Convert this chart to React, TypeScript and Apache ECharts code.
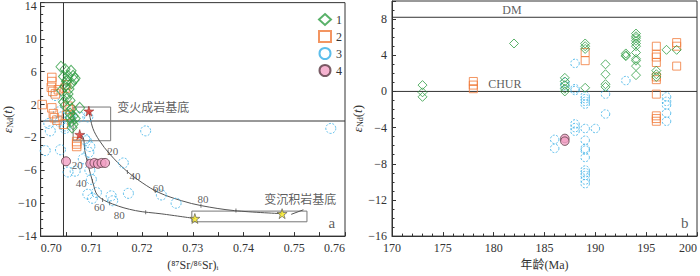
import React, { useEffect, useRef } from 'react';
import * as echarts from 'echarts';

const FONT = '"Liberation Serif", "Times New Roman", "Noto Sans CJK SC", serif';
const TXT = '#333';

// ---------- left panel (a) data: [(87Sr/86Sr)i, εNd(t)] ----------
const leftGroup1: number[][] = [
  [0.7040, 6.6], [0.7048, 6.3], [0.7060, 6.1], [0.7064, 5.5], [0.7068, 5.2], [0.7054, 5.5],
  [0.7045, 5.4], [0.7051, 4.8], [0.7061, 4.6], [0.7048, 4.2], [0.7041, 3.7], [0.7054, 3.3],
  [0.7051, 2.7], [0.7045, 2.3], [0.7058, 2.5], [0.7048, 1.9], [0.7061, 1.5], [0.7077, 1.6],
  [0.7058, 0.9], [0.7064, 0.6], [0.7068, 0.3], [0.7061, 0.0], [0.7064, -0.4], [0.7062, -0.8],
  [0.7052, 5.0], [0.7066, 5.0], [0.7056, 3.9], [0.7058, 0.4],
];
const leftGroup2: number[][] = [
  [0.7022, 5.3], [0.7022, 4.8], [0.7021, 4.1], [0.7024, 3.6], [0.7029, 3.3], [0.7035, 3.8],
  [0.7048, 4.0], [0.7051, 4.4], [0.7003, 2.0], [0.7022, 1.6], [0.7025, 0.9], [0.7027, 0.4],
  [0.7054, 1.8], [0.7058, 1.4], [0.7051, 0.7], [0.7071, -2.5], [0.7071, -2.8], [0.7071, -3.1],
  [0.7032, 0.1], [0.7045, -0.4],
];
const leftGroup3: number[][] = [
  [0.7019, -1.2], [0.7048, -0.9], [0.7207, -1.2], [0.7572, -0.9], [0.7029, 3.1], [0.7035, 1.1],
  [0.7041, 0.5], [0.7038, -0.1], [0.7058, 0.5], [0.7077, 0.5], [0.7093, 0.5], [0.7009, -3.6],
  [0.7039, -3.5], [0.7087, -2.2], [0.7097, -3.1], [0.7095, -3.8], [0.7084, -4.6], [0.7054, -6.2],
  [0.7068, -6.1], [0.7097, -6.0], [0.7100, -7.1], [0.7093, -8.9], [0.7102, -9.4], [0.7110, -8.7],
  [0.7139, -9.1], [0.7142, -9.7], [0.7173, -8.8], [0.7238, -9.0], [0.7267, -10.0], [0.7163, -5.1],
  [0.7016, -0.3], [0.7048, -0.6], [0.7090, -2.4],
];
const leftGroup4: number[][] = [
  [0.7050, -4.9], [0.7098, -5.2], [0.7106, -5.1], [0.7113, -5.2], [0.7120, -5.1], [0.7127, -5.1],
];
const basementStars: number[][] = [[0.7095, 1.2], [0.7077, -1.65]];
const sedimentStars: number[][] = [[0.7304, -11.86], [0.7476, -11.27]];

const mixUpper: number[][] = [
  [0.7095, 1.2], [0.7103, -0.9], [0.7116, -2.4], [0.7136, -4.0], [0.7168, -6.0], [0.7200, -7.5],
  [0.7233, -8.7], [0.7278, -9.7], [0.7317, -10.3], [0.7382, -10.9], [0.7476, -11.27],
];
const mixLower: number[][] = [
  [0.7077, -1.65], [0.7084, -2.0], [0.7087, -3.6], [0.7093, -5.2], [0.7103, -7.5], [0.7113, -9.1],
  [0.7142, -10.1], [0.7187, -10.9], [0.7239, -11.3], [0.7304, -11.86],
];
const upperTicks: number[][] = [[0.7133, -3.7], [0.7171, -6.2], [0.7226, -8.5], [0.7316, -10.3], [0.7385, -10.9]];
const lowerTicks: number[][] = [[0.7092, -4.8], [0.7102, -7.3], [0.7122, -9.6], [0.7136, -10.0], [0.7207, -11.1]];
const tickNames = ['20', '40', '60', '80'];
const upperTickLabelPos: number[][] = [[0.7142, -3.7], [0.7186, -6.7], [0.7232, -8.1], [0.7320, -9.5]];
const lowerTickLabelPos: number[][] = [[0.7072, -5.3], [0.7080, -7.5], [0.7116, -10.4], [0.7155, -11.4]];

const igneousBox: number[][] = [[0.7064, 1.7], [0.7138, 1.7], [0.7138, -2.4], [0.7064, -2.4], [0.7064, 1.7]];
const sedimentBox: number[][] = [[0.7298, -10.96], [0.7525, -10.96], [0.7525, -12.26], [0.7298, -12.26], [0.7298, -10.96]];
const sedimentLeader: number[][] = [[0.7494, -11.35], [0.7518, -10.8]];
const srRefX = 0.7045;
const leftNdRef = 0;

// ---------- right panel (b) data: [age Ma, εNd(t)] ----------
const rightGroup1: number[][] = [
  [173, 0.7], [173, -0.1], [173, -0.6], [182, 5.3],
  [187, 1.5], [187, 1.1], [187, 0.7], [187, 0.3], [187, 0.0],
  [189, 5.3], [189, 5.0], [189, 4.7], [189, 0.4],
  [191, 3.0], [191, 1.9], [191, 0.8], [191, 0.5],
  [193, 4.2], [193, 4.0], [193, 3.9],
  [194, 6.4], [194, 6.1], [194, 5.9], [194, 5.6], [194, 5.3], [194, 5.0], [194, 4.3], [194, 3.6], [194, 3.4], [194, 2.8], [194, 1.8],
  [196, 2.3], [196, 1.9], [196, 1.6], [197, 4.6], [198, 4.6],
];
const rightGroup2: number[][] = [
  [178, 1.1], [178, 0.7], [178, 0.3], [189, 4.3], [189, 3.4],
  [196, 5.0], [196, 4.1], [196, 3.8], [196, 3.2], [196, 1.6], [196, 1.3], [196, -0.3], [196, -2.7], [196, -3.0], [196, -3.3],
  [198, 5.4], [198, 5.0], [198, 2.8],
];
const rightGroup3: number[][] = [
  [186, -5.3], [186, -6.3], [187, 1.0], [187, 0.6],
  [188, 3.1], [188, 0.3], [188, 0.1], [188, -3.6], [188, -4.0], [188, -4.4],
  [189, -0.5], [189, -0.8], [189, -1.1], [189, -1.4], [189, -4.1], [189, -5.4], [189, -6.3], [189, -6.5], [189, -7.3],
  [189, -8.7], [189, -9.0], [189, -9.3], [189, -9.8], [189, -10.2],
  [190, -4.1], [191, -0.3], [191, -2.5], [193, 1.2],
  [197, -0.6], [197, -1.1], [197, -1.5], [197, -2.4], [197, -3.3],
];
const rightGroup4: number[][] = [[187, -5.2], [187, -5.5]];
const dmValue = 8.2;
const churValue = 0;

const groupNames = ['1', '2', '3', '4'];

const minus = (v: number) => String(v).replace('-', '−');

const STAR = 'path://M50,0 L61,35 L98,35 L68,57 L79,91 L50,70 L21,91 L32,57 L2,35 L39,35 Z';

const g1Style = { color: 'rgba(0,0,0,0)', borderColor: '#2f9e44', borderWidth: 1 };
const g2Style = { color: 'rgba(0,0,0,0)', borderColor: '#f07b3a', borderWidth: 1 };
const g3Style = { color: 'rgba(0,0,0,0)', borderColor: '#34aee6', borderWidth: 1, borderType: [2, 1.5] };
const g4Style = { color: '#f2a0c4', borderColor: '#5a3a44', borderWidth: 1 };

const grayLine = { color: '#555', width: 1 };

function lineSeries(data: number[][], ax: number, style = grayLine, smooth: boolean | number = false) {
  return {
    type: 'line', data, xAxisIndex: ax, yAxisIndex: ax, symbol: 'none', silent: true,
    lineStyle: style, smooth, z: 1,
  };
}

function textSeries(items: { value: number[]; name: string }[], ax: number, fontSize = 12, extra: any = {}) {
  return {
    type: 'scatter', data: items, xAxisIndex: ax, yAxisIndex: ax, symbolSize: 0, silent: true,
    label: { show: true, position: 'inside', formatter: '{b}', fontFamily: FONT, fontSize, color: TXT, ...extra },
    z: 5,
  };
}

const axisCommon = {
  axisLine: { show: true, onZero: false, lineStyle: { color: '#333', width: 1 } },
  axisTick: { show: true, inside: true, length: 4, lineStyle: { color: '#333' } },
  splitLine: { show: false },
};

const ndName = '{e|ε}{s|Nd}{p|(}{t|t}{p|)}';
const ndRich = {
  e: { fontFamily: FONT, fontSize: 13, fontStyle: 'italic', color: TXT },
  s: { fontFamily: FONT, fontSize: 8, color: TXT, verticalAlign: 'bottom', padding: [0, 0, 0, 0] },
  p: { fontFamily: FONT, fontSize: 13, color: TXT },
  t: { fontFamily: FONT, fontSize: 13, fontStyle: 'italic', color: TXT },
};

export default function App() {
  const ref = useRef<HTMLDivElement>(null);
  useEffect(() => {
    if (!ref.current) return;
    const chart = echarts.init(ref.current, undefined, { renderer: 'svg' });
    const option: any = {
      animation: false,
      backgroundColor: '#fff',
      grid: [
        { left: 37, top: 1, width: 308, height: 241, show: true, borderColor: '#333', borderWidth: 1 },
        { left: 392, top: 1, width: 306, height: 241, show: true, borderColor: '#333', borderWidth: 1 },
      ],
      legend: {
        data: groupNames, orient: 'vertical', left: 313, top: 8, itemWidth: 12, itemHeight: 11, itemGap: 4,
        textStyle: { fontFamily: FONT, fontSize: 12, color: TXT }, selectedMode: false,
      },
      xAxis: [
        {
          type: 'value', gridIndex: 0, min: 0.70, max: 0.76, interval: 0.01, ...axisCommon,
          minorTick: { show: true, splitNumber: 2, length: 4, lineStyle: { color: '#333' } },
          axisLabel: {
            fontFamily: FONT, fontSize: 12, color: TXT, margin: 6, formatter: (v: number) => v.toFixed(2),
            alignMinLabel: 'left', alignMaxLabel: 'right',
          },
          name: '(⁸⁷Sr/⁸⁶Sr)ᵢ', nameLocation: 'middle', nameGap: 20,
          nameTextStyle: { fontFamily: FONT, fontSize: 12, color: TXT },
        },
        {
          type: 'value', gridIndex: 1, min: 170, max: 200, interval: 5, ...axisCommon,
          minorTick: { show: true, splitNumber: 5, length: 2.5, lineStyle: { color: '#333' } },
          axisLabel: { fontFamily: FONT, fontSize: 12, color: TXT, margin: 6, alignMaxLabel: 'right' },
          name: '年龄(Ma)', nameLocation: 'middle', nameGap: 20,
          nameTextStyle: { fontFamily: FONT, fontSize: 12, color: TXT },
        },
      ],
      yAxis: [
        {
          type: 'value', gridIndex: 0, min: -14, max: 14.4, interval: 4, ...axisCommon,
          minorTick: { show: true, splitNumber: 4, length: 2.5, lineStyle: { color: '#333' } },
          axisLabel: { fontFamily: FONT, fontSize: 12, color: TXT, margin: 4, showMaxLabel: false, formatter: minus },
          name: ndName, nameLocation: 'middle', nameGap: 24, nameRotate: 90,
          nameTextStyle: { rich: ndRich },
        },
        {
          type: 'value', gridIndex: 1, min: -16, max: 10, interval: 4, ...axisCommon,
          minorTick: { show: true, splitNumber: 4, length: 2.5, lineStyle: { color: '#333' } },
          axisLabel: { fontFamily: FONT, fontSize: 12, color: TXT, margin: 5, showMaxLabel: false, formatter: minus },
          name: ndName, nameLocation: 'middle', nameGap: 26, nameRotate: 90,
          nameTextStyle: { rich: ndRich },
        },
      ],
      series: [
        // left reference lines
        lineSeries([[srRefX, -14], [srRefX, 14.4]], 0, { color: '#333', width: 1 }),
        lineSeries([[0.70, leftNdRef], [0.76, leftNdRef]], 0, { color: '#333', width: 1 }),
        lineSeries(igneousBox, 0, { color: '#777', width: 1 }),
        lineSeries(sedimentBox, 0, { color: '#777', width: 1 }),
        lineSeries(sedimentLeader, 0, { color: '#555', width: 1 }),
        lineSeries(mixUpper, 0, grayLine, 0.35),
        lineSeries(mixLower, 0, grayLine, 0.35),
        {
          type: 'scatter', xAxisIndex: 0, yAxisIndex: 0, silent: true, data: upperTicks.concat(lowerTicks),
          symbol: 'rect', symbolSize: [1, 4], itemStyle: { color: '#555' }, z: 2,
        },
        textSeries(upperTickLabelPos.map((v, i) => ({ value: v, name: tickNames[i] })), 0, 11),
        textSeries(lowerTickLabelPos.map((v, i) => ({ value: v, name: tickNames[i] })), 0, 11),
        // left groups
        { type: 'scatter', name: groupNames[2], xAxisIndex: 0, yAxisIndex: 0, data: leftGroup3, symbol: 'circle', symbolSize: 10, itemStyle: g3Style, z: 3 },
        { type: 'scatter', name: groupNames[1], xAxisIndex: 0, yAxisIndex: 0, data: leftGroup2, symbol: 'rect', symbolSize: 8.5, itemStyle: g2Style, z: 3 },
        { type: 'scatter', name: groupNames[0], xAxisIndex: 0, yAxisIndex: 0, data: leftGroup1, symbol: 'diamond', symbolSize: [10, 11], itemStyle: g1Style, z: 3 },
        { type: 'scatter', name: groupNames[3], xAxisIndex: 0, yAxisIndex: 0, data: leftGroup4, symbol: 'circle', symbolSize: 9, itemStyle: g4Style, z: 4 },
        {
          type: 'scatter', xAxisIndex: 0, yAxisIndex: 0, data: basementStars, symbol: STAR, symbolSize: 10, silent: true,
          itemStyle: { color: '#e0312b', borderColor: '#7a1d1a', borderWidth: 0.6 }, z: 5,
        },
        {
          type: 'scatter', xAxisIndex: 0, yAxisIndex: 0, data: sedimentStars, symbol: STAR, symbolSize: 10, silent: true,
          itemStyle: { color: '#f5e61a', borderColor: '#555', borderWidth: 0.8 }, z: 5,
        },
        textSeries([{ value: [0.7222, 1.62], name: '变火成岩基底' }], 0, 12),
        textSeries([{ value: [0.7512, -9.58], name: '变沉积岩基底' }], 0, 12),
        textSeries([{ value: [0.7574, -12.4], name: 'a' }], 0, 15),
        // right reference lines
        lineSeries([[170, dmValue], [200, dmValue]], 1, { color: '#333', width: 1 }),
        lineSeries([[170, churValue], [200, churValue]], 1, { color: '#333', width: 1 }),
        textSeries([{ value: [181.8, 8.95], name: 'DM' }], 1, 12),
        textSeries([{ value: [181.1, 0.85], name: 'CHUR' }], 1, 12),
        textSeries([{ value: [198.8, -14.5], name: 'b' }], 1, 15),
        // right groups
        { type: 'scatter', name: groupNames[2], xAxisIndex: 1, yAxisIndex: 1, data: rightGroup3, symbol: 'circle', symbolSize: 8.5, itemStyle: g3Style, z: 3 },
        { type: 'scatter', name: groupNames[1], xAxisIndex: 1, yAxisIndex: 1, data: rightGroup2, symbol: 'rect', symbolSize: 8, itemStyle: g2Style, z: 3 },
        { type: 'scatter', name: groupNames[0], xAxisIndex: 1, yAxisIndex: 1, data: rightGroup1, symbol: 'diamond', symbolSize: [9, 9], itemStyle: g1Style, z: 3 },
        { type: 'scatter', name: groupNames[3], xAxisIndex: 1, yAxisIndex: 1, data: rightGroup4, symbol: 'circle', symbolSize: 8.5, itemStyle: g4Style, z: 4 },
      ],
    };
    chart.setOption(option);
    return () => chart.dispose();
  }, []);
  return <div ref={ref} style={{ width: 700, height: 276, position: 'absolute', left: 0, top: 0 }} />;
}
